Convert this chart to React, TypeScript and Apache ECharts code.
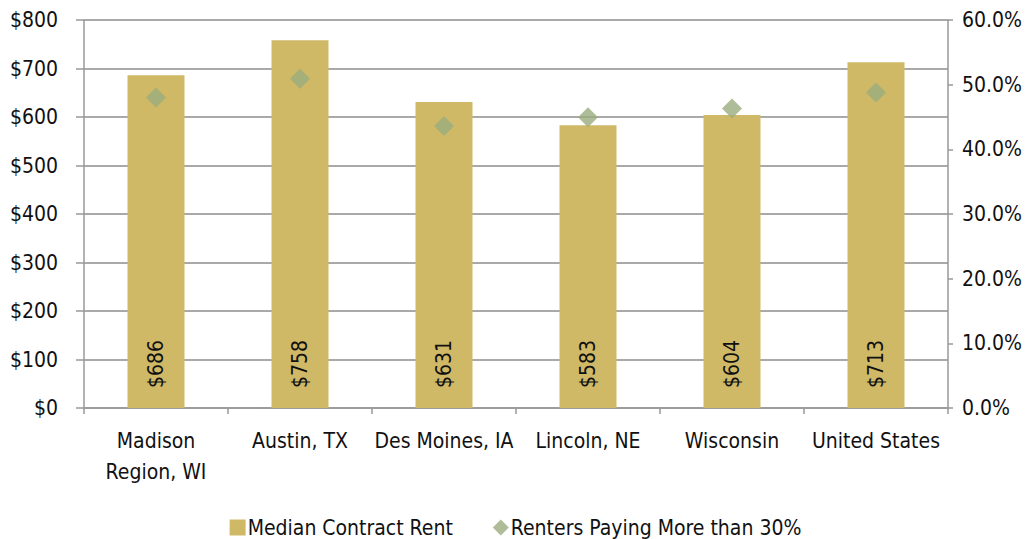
import React, { useEffect, useRef } from "react";
import * as echarts from "echarts";

const categories = ["Madison\nRegion, WI", "Austin, TX", "Des Moines, IA", "Lincoln, NE", "Wisconsin", "United States"];
const medianRent = [686, 758, 631, 583, 604, 713];
const rentersOver30 = [0.480, 0.509, 0.436, 0.4495, 0.463, 0.488];
const leftTicks = { min: 0, max: 800, interval: 100 };
const rightTicks = { min: 0, max: 0.6, interval: 0.1 };

const FONT = "'Liberation Sans Narrow', 'DejaVu Sans Condensed', 'Arial Narrow', sans-serif";

export default function App() {
  const ref = useRef<HTMLDivElement>(null);
  useEffect(() => {
    if (!ref.current) return;
    const chart = echarts.init(ref.current, null, { renderer: "svg" });
    const axisColor = "#999999";
    chart.setOption({
      animation: false,
      textStyle: { fontFamily: FONT },
      grid: { left: 84, right: 83, top: 20, bottom: 131, containLabel: false },
      legend: {
        bottom: -4,
        left: "center",
        itemGap: 40,
        itemWidth: 16,
        itemHeight: 16,
        textStyle: { fontFamily: FONT, fontSize: 21, color: "#111", padding: [0, 0, 0, -3] },
        data: [
          { name: "Median Contract Rent", icon: "rect" },
          { name: "Renters Paying More than 30%", icon: "diamond" },
        ],
      },
      xAxis: {
        type: "category",
        data: categories,
        boundaryGap: true,
        axisLine: { lineStyle: { color: axisColor, width: 1.5 } },
        axisTick: { show: true, length: 6, lineStyle: { color: axisColor, width: 1.5 } },
        axisLabel: { fontFamily: FONT, fontSize: 21, color: "#111", margin: 17, lineHeight: 31, interval: 0 },
      },
      yAxis: [
        {
          type: "value",
          min: leftTicks.min,
          max: leftTicks.max,
          interval: leftTicks.interval,
          axisLine: { show: true, lineStyle: { color: axisColor, width: 1.5 } },
          axisTick: { show: true, length: 8, lineStyle: { color: axisColor, width: 1.5 } },
          splitLine: { show: true, lineStyle: { color: "#8c8c8c", width: 1.5 } },
          axisLabel: { fontFamily: FONT, fontSize: 21, color: "#111", margin: 26, formatter: (v: number) => "$" + v },
        },
        {
          type: "value",
          min: rightTicks.min,
          max: rightTicks.max,
          interval: rightTicks.interval,
          position: "right",
          axisLine: { show: true, lineStyle: { color: axisColor, width: 1.5 } },
          axisTick: { show: true, length: 5, lineStyle: { color: axisColor, width: 1.5 } },
          splitLine: { show: false },
          axisLabel: { fontFamily: FONT, fontSize: 21, color: "#111", margin: 14, formatter: (v: number) => (v * 100).toFixed(1) + "%" },
        },
      ],
      series: [
        {
          name: "Median Contract Rent",
          type: "bar",
          data: medianRent,
          barWidth: 57,
          itemStyle: { color: "#cfb966" },
          label: {
            show: true,
            position: "insideBottom",
            rotate: 90,
            align: "left",
            verticalAlign: "middle",
            distance: 20,
            fontFamily: FONT,
            fontSize: 21,
            color: "#111",
            formatter: (p: any) => "$" + p.value,
          },
        },
        {
          name: "Renters Paying More than 30%",
          type: "scatter",
          yAxisIndex: 1,
          data: rentersOver30,
          symbol: "diamond",
          symbolSize: 20,
          itemStyle: { color: "#9aac7e" },
          z: 3,
        },
      ],
    });
    return () => chart.dispose();
  }, []);
  return <div ref={ref} style={{ width: 1031, height: 539, position: "absolute", left: 0, top: 0 }} />;
}
